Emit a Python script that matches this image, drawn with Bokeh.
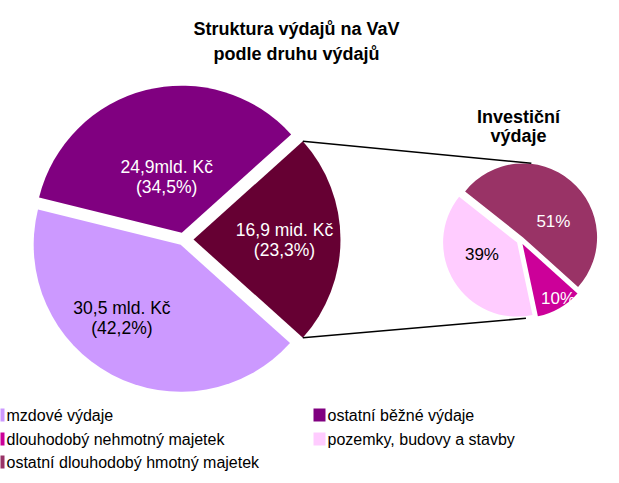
import numpy as np
from bokeh.plotting import figure
from bokeh.models import Range1d
from bokeh.core.properties import value
from bokeh.embed import file_html
from bokeh.resources import INLINE

# ---------------- data ----------------
title_lines = ["Struktura výdajů na VaV", "podle druhu výdajů"]
inv_title_lines = ["Investiční", "výdaje"]

# main pie, in drawing order (anticlockwise from the exploded slice)
main_categories = ["investiční výdaje", "ostatní běžné výdaje", "mzdové výdaje"]
main_values = [16.9, 24.9, 30.5]          # mld. Kč
main_shares = [23.3, 34.5, 42.2]          # %
main_labels = [["16,9 mid. Kč", "(23,3%)"],
               ["24,9mld. Kč", "(34,5%)"],
               ["30,5 mld. Kč", "(42,2%)"]]
main_colors = ["#660033", "#800080", "#CC99FF"]
main_text_colors = ["white", "white", "black"]

# secondary pie (investiční výdaje), anticlockwise order
inv_categories = ["ostatní dlouhodobý hmotný majetek", "pozemky, budovy a stavby",
                  "dlouhodobý nehmotný majetek"]
inv_shares = [51, 39, 10]
inv_labels = ["51%", "39%", "10%"]
inv_colors = ["#993366", "#FFCCFF", "#CC0099"]
inv_text_colors = ["white", "black", "white"]

legend_items = ["mzdové výdaje", "ostatní běžné výdaje",
                "dlouhodobý nehmotný majetek", "pozemky, budovy a stavby",
                "ostatní dlouhodobý hmotný majetek"]
legend_colors = ["#CC99FF", "#800080", "#CC0099", "#FFCCFF", "#993366"]

# ---------------- layout ----------------
W, H = 619, 483
FONT = "Liberation Sans"

main_cx, main_cy, main_r = 183, 244, 147
main_explode = [10, 7, 6]
main_label_polar = [(0, 101), (105, 65), (232, 100)]

inv_cx, inv_cy, inv_r = 520, 243, 74
inv_start = -42.0
inv_explode = [4, 4, 4]
inv_label_polar = [(30, 38), (200, 41), (-57, 69)]
connector_angles = [82, -86]

p = figure(width=W, height=H, output_backend="svg", toolbar_location=None,
           x_range=Range1d(0, W), y_range=Range1d(0, H),
           x_axis_type=None, y_axis_type=None, min_border=0,
           min_border_left=0, min_border_right=0, min_border_top=0, min_border_bottom=0)
p.grid.visible = False
p.outline_line_color = None
p.background_fill_color = "white"
p.border_fill_color = "white"


def draw_pie(cx, cy, r, shares, start_deg, explode, colors):
    bounds = start_deg + np.concatenate([[0], np.cumsum(shares)]) * 3.6
    info = []
    for i, col in enumerate(colors):
        a0, a1 = bounds[i], bounds[i + 1]
        mid = np.radians((a0 + a1) / 2)
        ox = cx + explode[i] * np.cos(mid)
        oy = cy + explode[i] * np.sin(mid)
        p.wedge(x=[ox], y=[oy], radius=r, start_angle=[np.radians(a0)],
                end_angle=[np.radians(a1)], direction="anticlock",
                fill_color=col, line_color=None)
        info.append((ox, oy, a0, a1))
    return info


main_start = -main_shares[0] * 3.6 / 2
main_info = draw_pie(main_cx, main_cy, main_r, main_shares, main_start, main_explode, main_colors)
inv_info = draw_pie(inv_cx, inv_cy, inv_r, inv_shares, inv_start, inv_explode, inv_colors)

# connector lines from the exploded slice to the secondary pie
ox, oy, a0, a1 = main_info[0]
for edge_ang, con_ang in zip([a1, a0], connector_angles):
    x0 = ox + main_r * np.cos(np.radians(edge_ang))
    y0 = oy + main_r * np.sin(np.radians(edge_ang))
    x1 = inv_cx + (inv_r + 4) * np.cos(np.radians(con_ang))
    y1 = inv_cy + (inv_r + 4) * np.sin(np.radians(con_ang))
    p.line(x=[x0, x1], y=[y0, y1], line_color="black", line_width=1.5)

# main labels
for (ang, dist), lines, tc in zip(main_label_polar, main_labels, main_text_colors):
    lx = main_cx + dist * np.cos(np.radians(ang))
    ly = main_cy + dist * np.sin(np.radians(ang))
    p.text(x=[lx, lx], y=[ly + 10, ly - 10], text=lines, text_color=tc,
           text_font=value(FONT), text_font_size="17.5px",
           text_align="center", text_baseline="middle")

# secondary labels
for (ang, dist), lab, tc in zip(inv_label_polar, inv_labels, inv_text_colors):
    lx = inv_cx + dist * np.cos(np.radians(ang))
    ly = inv_cy + dist * np.sin(np.radians(ang))
    p.text(x=[lx], y=[ly], text=[lab], text_color=tc,
           text_font=value(FONT), text_font_size="17px",
           text_align="center", text_baseline="middle")

# titles
p.text(x=[296, 296], y=[455, 430], text=title_lines, text_color="black",
       text_font=value(FONT), text_font_size="18px", text_font_style="bold",
       text_align="center", text_baseline="middle")
p.text(x=[518, 518], y=[367, 348], text=inv_title_lines, text_color="black",
       text_font=value(FONT), text_font_size="18px", text_font_style="bold",
       text_align="center", text_baseline="middle")

# legend
sq_left = [-8, 313]
txt_x = [6, 327]
row_y = [68, 44, 21]
for i, (name, col) in enumerate(zip(legend_items, legend_colors)):
    c = i % 2
    cy_ = row_y[i // 2]
    p.quad(left=[sq_left[c]], right=[sq_left[c] + 12], bottom=[cy_ - 6], top=[cy_ + 7],
           fill_color=col, line_color=None)
    p.text(x=[txt_x[c]], y=[cy_], text=[name], text_color="black",
           text_font=value(FONT), text_font_size="16px",
           text_align="left", text_baseline="middle")

open("out.html", "w").write(file_html(p, INLINE))
